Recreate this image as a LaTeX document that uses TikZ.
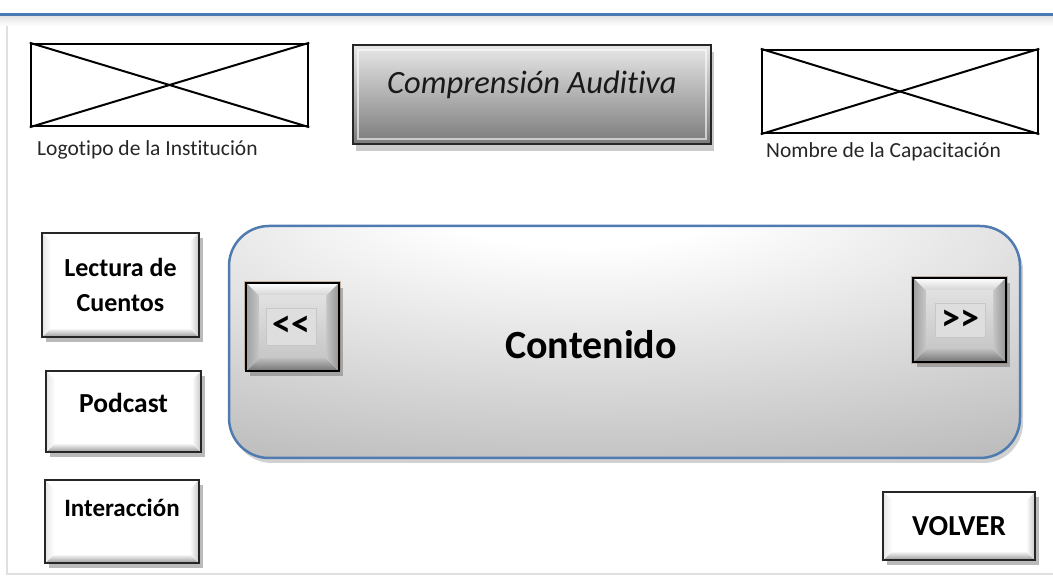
\documentclass[tikz,border=0pt]{standalone}
\usepackage{fontspec}
\setmainfont{Carlito}[Ligatures={NoCommon}]
\usetikzlibrary{shadows,calc}
\definecolor{blueline}{RGB}{74,122,180}
\definecolor{cborder}{RGB}{79,123,176}
\definecolor{beige}{RGB}{196,176,160}
\pgfdeclareradialshading{contshade}{\pgfpoint{-3bp}{34bp}}{color(0bp)=(white); color(10bp)=(white); color(60bp)=(black!34); color(100bp)=(black!40)}
\begin{document}
\begin{tikzpicture}[x=1pt,y=1pt,
  imgbox/.style={draw=black, line width=2.4pt, fill=white, inner sep=0pt},
  crossln/.style={line width=2pt},
  caption/.style={anchor=west, inner sep=0pt, text=black!85, font=\fontsize{21.5}{25}\selectfont},
  shad/.style={drop shadow={shadow xshift=4pt, shadow yshift=-5pt, opacity=0.45, fill=black!60}},
  wbtn/.style={draw=black!85, line width=2pt, fill=white, inner sep=0pt, shad,
    path picture={
      \path (path picture bounding box.south west) coordinate (q1)
            (path picture bounding box.north east) coordinate (q2);
      \fill[top color=white, bottom color=black!40] (q1) -- (q1 -| q2) -- ($(q1 -| q2)+(-9,9)$) -- ($(q1)+(9,9)$) -- cycle;
      \fill[left color=white, right color=black!22] (q1 -| q2) -- (q2) -- ($(q2)+(-9,-9)$) -- ($(q1 -| q2)+(-9,9)$) -- cycle;
      \fill[left color=black!10, right color=white] (q1) -- (q2 -| q1) -- ($(q2 -| q1)+(9,-9)$) -- ($(q1)+(9,9)$) -- cycle;
    }},
  btntext/.style={inner sep=0pt, font=\fontsize{26}{35}\selectfont\bfseries, align=center},
  gbtn/.style={draw=black, line width=2pt, fill=black!17, inner sep=0pt, shad,
    path picture={
      \path (path picture bounding box.south west) coordinate (q1)
            (path picture bounding box.north east) coordinate (q2);
      \fill[top color=white, bottom color=black!18] (q2 -| q1) -- (q2) -- ($(q2)+(-13,-13)$) -- ($(q2 -| q1)+(13,-13)$) -- cycle;
      \fill[top color=black!25, bottom color=black!55] (q1) -- (q1 -| q2) -- ($(q1 -| q2)+(-13,13)$) -- ($(q1)+(13,13)$) -- cycle;
      \fill[left color=black!38, right color=black!22] (q1) -- (q2 -| q1) -- ($(q2 -| q1)+(13,-13)$) -- ($(q1)+(13,13)$) -- cycle;
      \fill[left color=black!22, right color=black!42] (q1 -| q2) -- (q2) -- ($(q2)+(-13,-13)$) -- ($(q1 -| q2)+(-13,13)$) -- cycle;
      \fill[top color=black!12, bottom color=black!22] ($(q1)+(13,13)$) rectangle ($(q2)+(-13,-13)$);
    }},
  arrlbl/.style={draw=black!22, line width=0.8pt, fill=black!13, inner sep=0pt, font=\fontsize{38}{40}\selectfont\bfseries}
]
\useasboundingbox (0,0) rectangle (1053,579);
% page frame
\fill[top color=black!12, bottom color=white] (0,553) rectangle (1053,564);
\draw[black!12, line width=1.5pt] (7,553) -- (7,5) -- (1053,5);
\draw[blueline, line width=3pt] (0,564) -- (1053,564);

% logo placeholder
\node[imgbox, minimum width=277, minimum height=82] (logo) at (169.5,494) {};
\draw[crossln] (logo.north west) -- (logo.south east);
\draw[crossln] (logo.south west) -- (logo.north east);
\node[caption] (logolbl) at (37,429) {Logotipo de la Institución};

% title button
\node[draw=black!85, line width=1.8pt, inner sep=0pt, minimum width=358, minimum height=99,
  top color=black!9, bottom color=black!52,
  drop shadow={shadow xshift=3pt, shadow yshift=-7pt, opacity=0.35, fill=black!60},
  path picture={
    \path (path picture bounding box.south west) coordinate (q1)
          (path picture bounding box.north east) coordinate (q2);
    \draw[white, opacity=0.6, line width=1.2pt] ($(q1)+(5,5)$) rectangle ($(q2)+(-5,-5)$);
  }] (title) at (532,484.5) {};
\node[inner sep=0pt, font=\fontsize{32.5}{36}\selectfont\itshape, text=black!90] (titletxt) at ($(title.center)+(0,10)$) {Comprensión Auditiva};

% course name placeholder
\node[imgbox, minimum width=276, minimum height=83] (course) at (900,487.5) {};
\draw[crossln] (course.north west) -- (course.south east);
\draw[crossln] (course.south west) -- (course.north east);
\node[caption] (courselbl) at (766,427) {Nombre de la Capacitación};

% left menu buttons
\node[wbtn, minimum width=157, minimum height=104] (lectura) at (120.5,294) {};
\node[btntext] (lecturatxt) at (lectura.center) {Lectura de\\Cuentos};
\node[wbtn, minimum width=155, minimum height=81] (podcast) at (123.5,167.5) {};
\node[btntext, font=\fontsize{27.5}{30}\selectfont\bfseries] (podcasttxt) at ($(podcast.center)+(0,8.5)$) {Podcast};
\node[wbtn, minimum width=154, minimum height=83] (interac) at (122,57.5) {};
\node[btntext, font=\fontsize{25}{30}\selectfont\bfseries] (interactxt) at ($(interac.center)+(0,13.5)$) {Interacción};

% content panel
\node[draw=cborder, line width=2.5pt, rounded corners=40pt, shading=contshade, inner sep=0pt,
  minimum width=791, minimum height=232,
  drop shadow={shadow xshift=3pt, shadow yshift=-5pt, opacity=0.3, fill=black!60}] (content) at (624.5,237) {};
\node[inner sep=0pt, font=\fontsize{40}{48}\selectfont\bfseries] (contenttxt) at (591,234) {Contenido};

% navigation buttons
\draw[beige, line width=1pt] (244.5,209.5) rectangle (340.5,297.5);
\node[gbtn, minimum width=93, minimum height=88] (prev) at (292.5,252) {};
\node[arrlbl, minimum width=50, minimum height=37] (prevlbl) at (291,252.5) {{<}{<}};
\draw[beige, line width=1pt] (911.5,215.5) rectangle (1007.5,302.5);
\node[gbtn, minimum width=93, minimum height=84] (next) at (959.5,259) {};
\node[arrlbl, minimum width=50, minimum height=34] (nextlbl) at (960,259) {{>}{>}};

% back button
\node[wbtn, minimum width=152, minimum height=68] (volver) at (959,53) {};
\node[btntext, font=\fontsize{29}{30}\selectfont\bfseries] (volvertxt) at ($(volver.center)+(0,0)$) {VOLVER};
\end{tikzpicture}
\end{document}
